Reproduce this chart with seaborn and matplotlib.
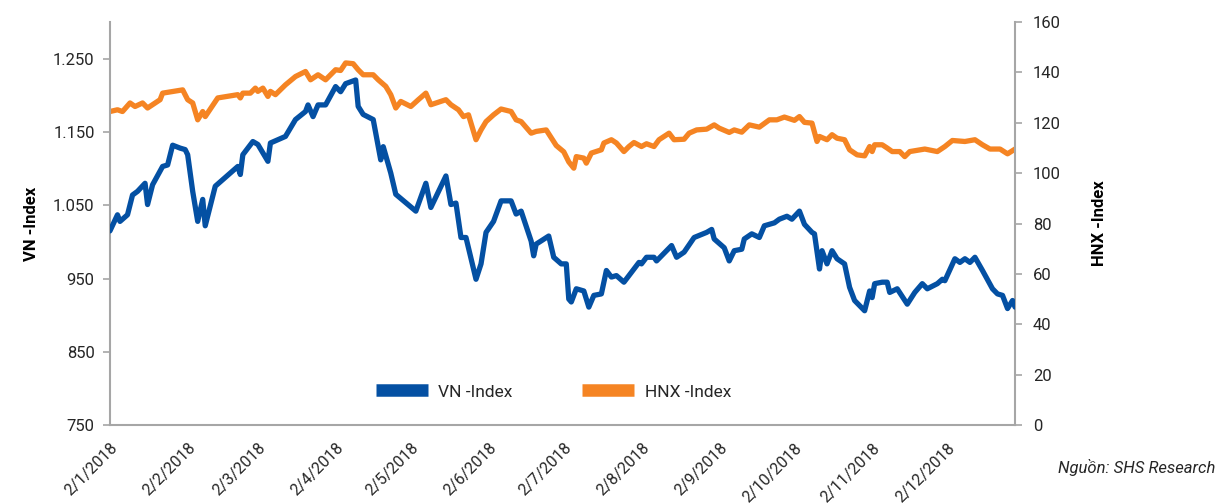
import numpy as np
import pandas as pd
import matplotlib
matplotlib.use("Agg")
import matplotlib.pyplot as plt
from matplotlib.ticker import FuncFormatter
from matplotlib.lines import Line2D
import seaborn as sns

## Data - days counted from 2/1/2018
vn_days = [0, 3, 4, 7, 9, 11, 14, 15, 17, 21, 23, 25, 28, 30, 31, 33, 35, 37, 38, 42,
           51, 52, 53, 57, 59, 63, 64, 70, 74, 78, 79, 81, 83, 86, 90, 92, 94, 98, 99, 101,
           105, 108, 109, 112, 114, 122, 126, 128, 134, 136, 138, 140, 142, 146, 148, 150, 153, 156, 160, 162,
           164, 168, 169, 170, 175, 177, 180, 182, 183, 184, 186, 189, 191, 193, 196, 198, 200, 202, 205, 211,
           212, 214, 217, 218, 224, 226, 229, 233, 238, 240, 241, 245, 247, 249, 252, 253, 256, 259, 261, 265,
           267, 270, 272, 275, 277, 280, 281, 283, 284, 286, 288, 290, 293, 295, 297, 301, 303, 304, 305, 308,
           310, 311, 314, 318, 321, 324, 326, 330, 332, 333, 337, 339, 341, 343, 345, 348, 352, 354, 356, 358,
           360, 361]
vn_index = [1015, 1037, 1028, 1037, 1064, 1069, 1080, 1051, 1078, 1103, 1105, 1132, 1128, 1126, 1119, 1069, 1028, 1058, 1022, 1076,
            1103, 1092, 1119, 1137, 1133, 1110, 1135, 1144, 1167, 1178, 1187, 1171, 1187, 1187, 1212, 1205, 1216, 1221, 1185, 1174,
            1167, 1112, 1130, 1094, 1065, 1042, 1080, 1047, 1090, 1051, 1053, 1006, 1006, 949, 970, 1013, 1028, 1056, 1056, 1038,
            1042, 1001, 981, 997, 1008, 979, 970, 970, 922, 918, 936, 933, 911, 927, 929, 961, 952, 954, 945, 972,
            970, 979, 979, 974, 995, 979, 986, 1006, 1013, 1017, 1004, 992, 974, 988, 990, 1004, 1011, 1006, 1022, 1026,
            1031, 1035, 1031, 1042, 1024, 1013, 1011, 963, 988, 970, 988, 977, 970, 938, 920, 906, 933, 924, 943, 945,
            945, 931, 936, 915, 931, 943, 936, 943, 949, 947, 977, 972, 977, 972, 979, 961, 936, 929, 927, 909,
            920, 911]

hnx_days = [0, 3, 5, 8, 10, 13, 15, 20, 21, 29, 31, 33, 35, 37, 38, 43, 51, 52, 53, 56,
            58, 59, 61, 63, 64, 66, 70, 74, 78, 80, 83, 86, 90, 92, 94, 97, 99, 101, 105, 107,
            110, 112, 114, 116, 120, 123, 126, 128, 134, 136, 139, 141, 143, 146, 148, 150, 153, 156, 160, 162,
            164, 168, 170, 174, 178, 181, 183, 185, 186, 189, 190, 192, 196, 197, 200, 202, 205, 207, 209, 212,
            214, 217, 219, 223, 225, 229, 231, 234, 238, 241, 243, 247, 249, 252, 255, 259, 263, 266, 269, 273,
            275, 277, 280, 282, 283, 286, 288, 290, 293, 295, 298, 301, 303, 304, 305, 308, 310, 312, 315, 317,
            319, 325, 330, 333, 336, 341, 345, 348, 351, 355, 358, 361]
hnx_index = [124.5, 125.2, 124.5, 127.9, 126.5, 127.9, 125.9, 129.2, 131.8, 133.1, 129.2, 127.9, 121.2, 124.5, 122.5, 129.9, 131.2, 129.9, 131.8, 131.8,
             133.8, 132.5, 133.8, 130.5, 132.5, 131.2, 135.1, 138.4, 140.4, 137.1, 139.1, 137.1, 141.1, 140.8, 143.8, 143.5, 141.1, 139.1, 139.1, 137.1,
             134.5, 131.2, 125.9, 128.5, 126.5, 129.2, 131.8, 127.2, 129.2, 127.2, 125.2, 122.5, 123.2, 113.3, 117.2, 120.5, 123.2, 125.5, 124.5, 121.2,
             120.5, 115.9, 116.6, 117.2, 111.0, 108.5, 104.5, 102.0, 106.6, 106.0, 104.0, 108.0, 109.3, 112.0, 113.3, 112.0, 108.6, 110.6, 112.2, 110.6,
             111.7, 110.6, 113.3, 115.9, 113.3, 113.5, 115.9, 117.2, 117.5, 119.2, 117.9, 116.2, 117.2, 116.3, 119.2, 118.3, 121.2, 121.2, 122.3, 121.0,
             122.5, 120.2, 119.9, 112.6, 114.6, 113.3, 115.3, 113.9, 113.3, 109.3, 107.3, 106.9, 110.6, 108.6, 111.3, 111.3, 110.0, 108.6, 108.6, 106.6,
             108.6, 109.6, 108.6, 110.6, 113.0, 112.6, 113.3, 111.3, 109.6, 109.6, 107.7, 109.6]

month_ticks = pd.date_range("2018-01-01", periods=12, freq="MS") + pd.Timedelta(days=1)
vn_ticks = [750, 850, 950, 1050, 1150, 1250]
hnx_ticks = [0, 20, 40, 60, 80, 100, 120, 140, 160]

start = pd.Timestamp("2018-01-02")
df_vn = pd.DataFrame({"date": start + pd.to_timedelta(vn_days, unit="D"), "value": vn_index})
df_hnx = pd.DataFrame({"date": start + pd.to_timedelta(hnx_days, unit="D"), "value": hnx_index})

## Style
sns.set_style("white")
plt.rcParams["font.family"] = ["Roboto", "DejaVu Sans"]
blue = "#0450A3"
orange = "#F58423"
grey = "#A6A6A6"
text_c = "#262626"

fig = plt.figure(figsize=(12.19, 5.03), dpi=100)
ax = fig.add_axes([0.0902, 0.155, 0.7425, 0.801])
ax2 = ax.twinx()

sns.lineplot(data=df_vn, x="date", y="value", ax=ax, color=blue, lw=3.8, zorder=3)
sns.lineplot(data=df_hnx, x="date", y="value", ax=ax2, color=orange, lw=3.8, zorder=2)
ax.set_zorder(ax2.get_zorder() + 1)
ax.patch.set_visible(False)

ax.set_xlim(pd.Timestamp("2018-01-02"), pd.Timestamp("2018-12-29"))
ax.set_ylim(750, 1300)
ax2.set_ylim(0, 160)
ax.set_yticks(vn_ticks)
ax2.set_yticks(hnx_ticks)
ax.yaxis.set_major_formatter(FuncFormatter(lambda v, p: f"{v:,.0f}".replace(",", ".")))
ax.set_xticks(month_ticks)
ax.set_xticklabels([f"{d.day}/{d.month}/{d.year}" for d in month_ticks],
                   rotation=45, ha="right", rotation_mode="anchor")

for a in (ax, ax2):
    for s in a.spines.values():
        s.set_visible(False)
    a.tick_params(colors=text_c, labelsize=12, length=5, width=1.2, color=grey, direction="out")
ax.spines["left"].set_visible(True)
ax.spines["bottom"].set_visible(True)
ax2.spines["right"].set_visible(True)
for s in (ax.spines["left"], ax.spines["bottom"], ax2.spines["right"]):
    s.set_color(grey)
    s.set_linewidth(1.5)
ax.tick_params(axis="x", pad=6, labelsize=11.5)
ax.tick_params(axis="y", pad=6)
ax2.tick_params(axis="y", pad=8)
ax.grid(False)
ax2.grid(False)

ax.set_xlabel("")
ax.set_ylabel("VN -Index", fontsize=12, fontweight="bold", color="black", labelpad=10)
ax2.set_ylabel("HNX -Index", fontsize=12, fontweight="bold", color="black", labelpad=22, rotation=90)

handles = [Line2D([0], [0], color=blue, lw=9, solid_capstyle="butt"),
           Line2D([0], [0], color=orange, lw=9, solid_capstyle="butt")]
ax.legend(handles, ["VN -Index", "HNX -Index"], loc="center", bbox_to_anchor=(0.49, 0.082),
          ncol=2, frameon=False, fontsize=12.5, handlelength=3.0, columnspacing=4.0, handletextpad=0.6,
          labelcolor=text_c)

fig.text(0.997, 0.07, "Nguồn: SHS Research", ha="right", va="center", fontsize=12,
         style="italic", color=text_c)

plt.savefig("out.png", dpi=100, facecolor="white")
plt.close()
